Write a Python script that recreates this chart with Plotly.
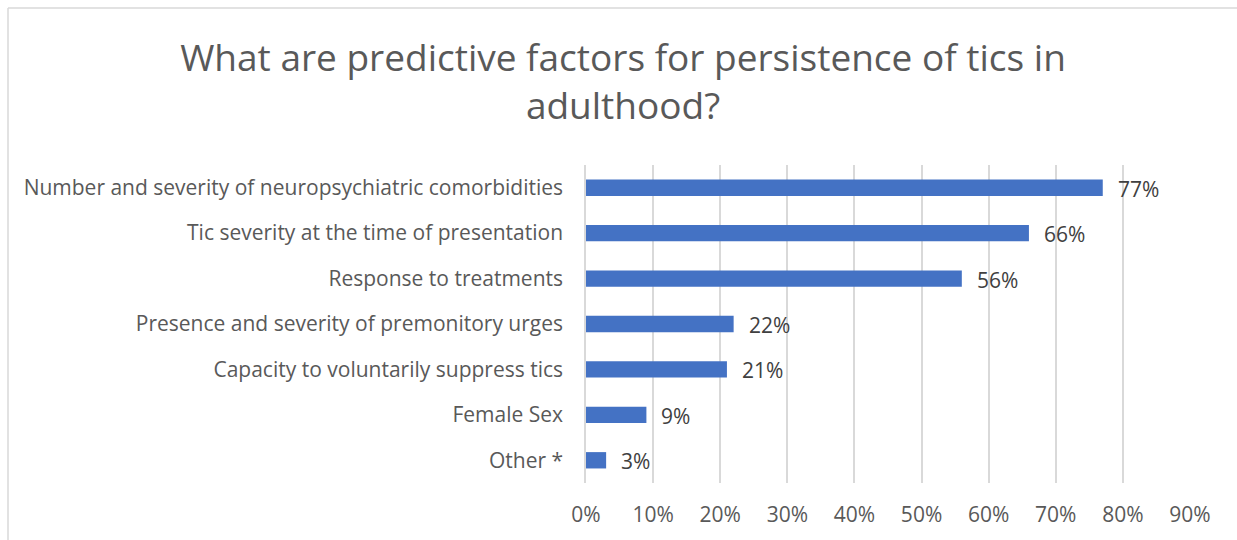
import plotly.graph_objects as go

categories = [
    "Number and severity of neuropsychiatric comorbidities",
    "Tic severity at the time of presentation",
    "Response to treatments",
    "Presence and severity of premonitory urges",
    "Capacity to voluntarily suppress tics",
    "Female Sex",
    "Other *",
]
values = [77, 66, 56, 22, 21, 9, 3]
tick_vals = [0, 10, 20, 30, 40, 50, 60, 70, 80, 90]
tick_text = [f"{v}%" for v in tick_vals]

W, H = 1237, 540
ML, MR, MT, MB = 586, 47, 165, 57
FONT = "Open Sans, sans-serif"

fig = go.Figure(
    go.Bar(
        y=categories,
        x=values,
        orientation="h",
        marker=dict(color="#4472C4", line=dict(width=0)),
        width=0.36,
        hoverinfo="x+y",
    )
)

# value labels placed just past the end of each bar
for cat, v in zip(categories, values):
    fig.add_annotation(
        x=v, y=cat, text=f"{v}%", showarrow=False,
        xanchor="left", yanchor="middle", xshift=13, yshift=-1,
        font=dict(size=21, color="#404040", family=FONT),
    )

pw = W - ML - MR
ph = H - MT - MB
# light border around the chart area
bx0 = (8 - ML) / pw
by1 = 1 + (MT - 8) / ph
fig.add_shape(type="line", xref="paper", yref="paper",
              x0=bx0, x1=bx0, y0=-MB / ph - 0.1, y1=by1,
              line=dict(color="#d9d9d9", width=1.5))
fig.add_shape(type="line", xref="paper", yref="paper",
              x0=bx0, x1=1 + MR / pw + 0.1, y0=by1, y1=by1,
              line=dict(color="#d9d9d9", width=1.5))

fig.update_layout(
    width=W,
    height=H,
    margin=dict(l=ML, r=MR, t=MT, b=MB),
    paper_bgcolor="white",
    plot_bgcolor="white",
    showlegend=False,
    title=dict(
        text="What are predictive factors for persistence of tics in<br>adulthood?",
        x=623 / W,
        xanchor="center",
        y=1 - 71 / H,
        yanchor="middle",
        font=dict(size=37, color="#595959", family=FONT),
    ),
    xaxis=dict(
        range=[0, 90],
        tickvals=tick_vals,
        ticktext=tick_text,
        showgrid=True,
        gridcolor="#d9d9d9",
        gridwidth=1.5,
        zeroline=False,
        showline=False,
        tickfont=dict(size=21, color="#595959", family=FONT),
        ticklabelstandoff=17,
        fixedrange=True,
    ),
    yaxis=dict(
        autorange="reversed",
        showgrid=False,
        zeroline=False,
        showline=True,
        linecolor="#d9d9d9",
        linewidth=1.5,
        tickfont=dict(size=21, color="#595959", family=FONT),
        ticks="",
        ticklabelstandoff=17,
        fixedrange=True,
    ),
)

fig.write_html("out.html")
